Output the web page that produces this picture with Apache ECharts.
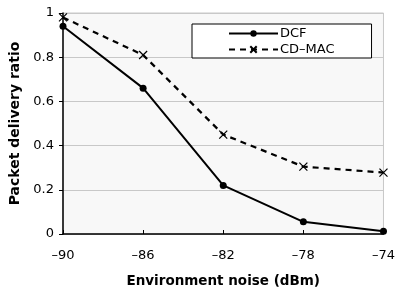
<!DOCTYPE html>
<html><head><meta charset="utf-8">
<script src="https://cdn.jsdelivr.net/npm/echarts@6/dist/echarts.min.js"></script>
<style>html,body{margin:0;padding:0;background:#fff}#c{width:398px;height:293px}</style>
</head><body><div id="c"></div>
<script>
var noise = [-90, -86, -82, -78, -74];
var dcf = [0.94, 0.66, 0.22, 0.055, 0.012];
var cdmac = [0.98, 0.81, 0.45, 0.305, 0.278];
var seriesNames = ['DCF', 'CD\u2013MAC'];
var xTitle = 'Environment noise (dBm)';
var yTitle = 'Packet delivery ratio';

function pairs(xs, ys){ return xs.map(function(x,i){return [x, ys[i]];}); }
var font = '"DejaVu Sans", sans-serif';
var chart = echarts.init(document.getElementById('c'), null, {renderer:'canvas'});
chart.setOption({
  animation:false,
  backgroundColor:'#fff',
  grid:{left:63,right:10,top:13,bottom:58,show:true,backgroundColor:'#f8f8f8',borderColor:'#c8c8c8',borderWidth:1},
  legend:{
    left:192, top:24,
    orient:'vertical', itemGap:3, itemWidth:49, itemHeight:8,
    backgroundColor:'#fff', borderColor:'#000', borderWidth:1, padding:[3,37,2,36],
    textStyle:{fontFamily:font,fontSize:13,color:'#000',padding:[0,0,0,-3]},
    data:seriesNames
  },
  xAxis:{
    type:'value', min:-90, max:-74, interval:4,
    name:xTitle, nameLocation:'middle', nameGap:40,
    nameTextStyle:{fontFamily:font,fontSize:13.5,fontWeight:'bold',color:'#000'},
    axisLine:{onZero:false,lineStyle:{color:'#000',width:1.5}},
    axisTick:{inside:true,length:4,lineStyle:{color:'#000'}},
    axisLabel:{margin:15,fontFamily:font,fontSize:13,color:'#000',formatter:function(v){return String(v).replace('-','\u2013');}},
    splitLine:{show:false}
  },
  yAxis:{
    type:'value', min:0, max:1, interval:0.2,
    name:yTitle, nameLocation:'middle', nameGap:37,
    nameTextStyle:{fontFamily:font,fontSize:14,fontWeight:'bold',color:'#000'},
    axisLine:{show:true,lineStyle:{color:'#000',width:1.5}},
    axisTick:{show:true,length:4,lineStyle:{color:'#000'}},
    axisLabel:{margin:9,fontFamily:font,fontSize:13,color:'#000'},
    splitLine:{lineStyle:{color:'#c8c8c8',width:1}}
  },
  series:[
    {name:seriesNames[0], type:'line', data:pairs(noise,dcf), symbol:'circle', symbolSize:7,
     lineStyle:{color:'#000',width:2}, itemStyle:{color:'#000'}, z:3},
    {name:seriesNames[1], type:'line', data:pairs(noise,cdmac), symbol:'path://M0,0L10,10M10,0L0,10', symbolSize:8,
     lineStyle:{color:'#000',width:2.2,type:[6,5]}, itemStyle:{color:'#000',borderColor:'#000',borderWidth:1.2}, z:2}
  ]
});
</script></body></html>
